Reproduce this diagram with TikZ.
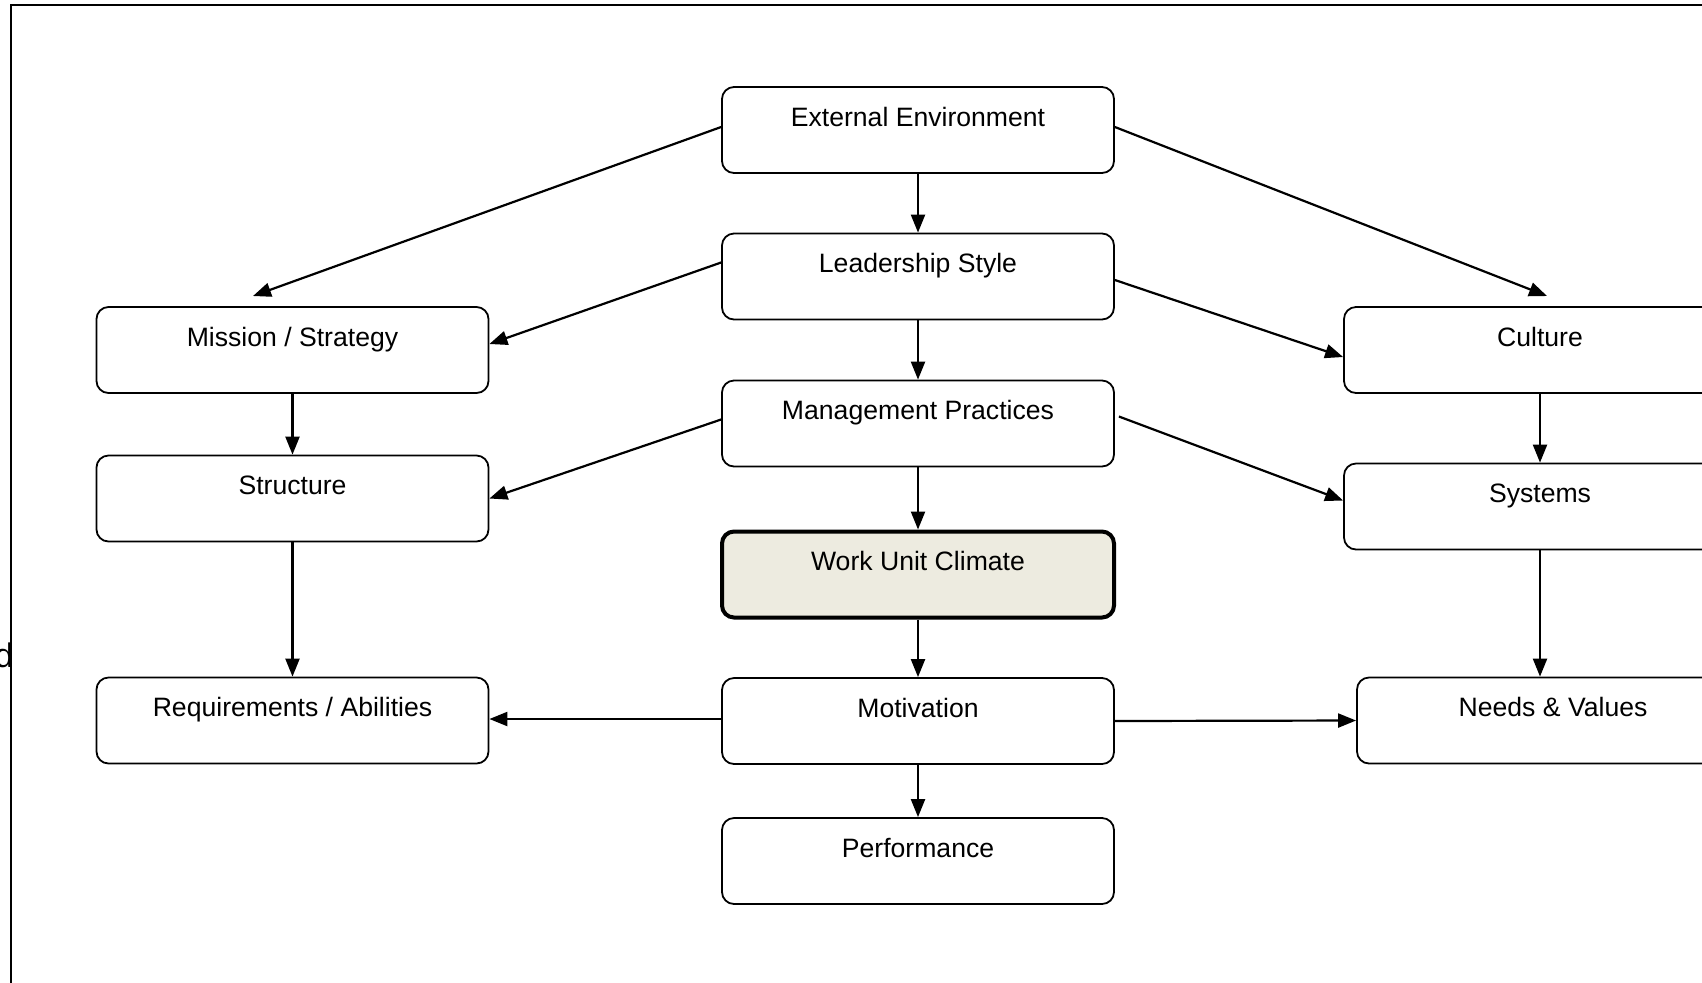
\documentclass[tikz,border=0pt]{standalone}
\usepackage{fontspec}
\setmainfont{Liberation Sans}
\usetikzlibrary{arrows.meta,calc}
\definecolor{wucfill}{RGB}{237,235,224}
\begin{document}
\begin{tikzpicture}[x=0.5pt,y=-0.5pt,
  box/.style={draw, rounded corners=6pt, line width=0.9pt, minimum width=196pt, minimum height=43pt,
    inner sep=0pt, text height=19.5pt, text depth=23.5pt, font=\fontsize{13.3}{15}\selectfont},
  keybox/.style={box, line width=2pt, fill=wucfill},
  link/.style={line width=1.1pt, -{Triangle[length=9pt,width=7pt]}},
  frame/.style={line width=1pt}]
\clip (0,0) rectangle (1702,982);
\fill[white] (0,0) rectangle (1702,982);
% frame
\coordinate (fbl) at (11,1000);
\coordinate (ftl) at (11,5);
\coordinate (ftr) at (1720,5);
\node[anchor=base east, inner sep=0pt, font=\fontsize{17}{19}\selectfont] (dd) at (14,667) {d};
\draw[frame] (fbl) -- (ftl) -- (ftr);
% nodes
\node[box] (ext) at (918,130) {External Environment};
\node[box] (lead) at (918,276.5) {Leadership Style};
\node[box] (mgmt) at (918,423.5) {Management Practices};
\node[keybox] (wuc) at (918,574.5) {Work Unit Climate};
\node[box] (mot) at (918,721) {Motivation};
\node[box] (perf) at (918,861) {Performance};
\node[box] (miss) at (292.5,350) {Mission / Strategy};
\node[box] (struct) at (292.5,498.5) {Structure};
\node[box] (req) at (292.5,720.5) {Requirements / Abilities};
\node[box] (cult) at (1540,350) {Culture};
\node[box] (sys) at (1540,506.5) {Systems};
\node[box] (needs) at (1553,720.5) {Needs \& Values};
% free ends
\coordinate (misstip) at (253,296);
\coordinate (culttip) at (1547,296);
% connectors
\draw[link] ($(ext.west)+(0,-3)$) -- (misstip);
\draw[link] ($(ext.east)+(0,-3)$) -- (culttip);
\draw[link] (ext.south) -- (lead.north);
\draw[link] ($(lead.west)+(0,-14)$) -- ($(miss.east)+(0,-6)$);
\draw[link] ($(lead.east)+(0,3.5)$) -- ($(cult.west)+(0,7)$);
\draw[link] (lead.south) -- (mgmt.north);
\draw[link] ($(mgmt.west)+(0,-4)$) -- (struct.east);
\draw[link] ($(mgmt.east)+(4,-7)$) -- ($(sys.west)+(0,-6)$);
\draw[link] (mgmt.south) -- (wuc.north);
\draw[link] (wuc.south) -- (mot.north);
\draw[link] ($(mot.west)+(0,-2)$) -- ($(req.east)+(0,-1.5)$);
\draw[link] (mot.east) -- (needs.west);
\draw[link] (mot.south) -- (perf.north);
\draw[link] (miss.south) -- (struct.north);
\draw[link] (struct.south) -- (req.north);
\draw[link] (cult.south) -- (sys.north);
\draw[link] (sys.south) -- (sys.south |- needs.north);
\end{tikzpicture}
\end{document}
